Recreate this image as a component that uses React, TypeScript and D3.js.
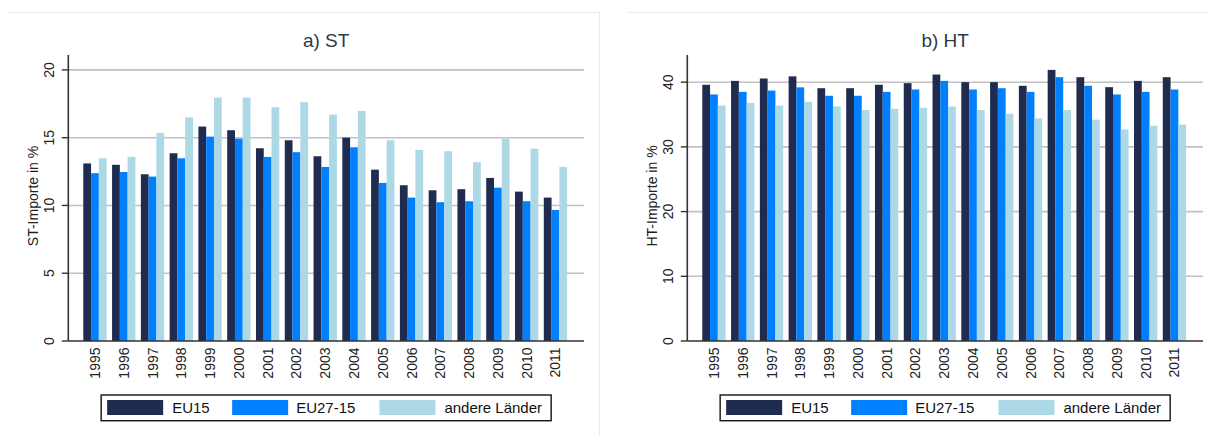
import React from 'react';
import * as d3 from 'd3';

const years = ['1995','1996','1997','1998','1999','2000','2001','2002','2003','2004','2005','2006','2007','2008','2009','2010','2011'];
const seriesNames = ['EU15', 'EU27-15', 'andere Länder'];
const seriesColors = ['#1f2b4f', '#0080ff', '#add8e6'];

const stEU15 = [13.1, 13.0, 12.3, 13.85, 15.82, 15.55, 14.22, 14.81, 13.63, 15.0, 12.64, 11.49, 11.12, 11.2, 12.03, 11.02, 10.58];
const stEU2715 = [12.38, 12.47, 12.13, 13.48, 15.08, 14.93, 13.58, 13.93, 12.84, 14.29, 11.66, 10.58, 10.24, 10.31, 11.31, 10.31, 9.67];
const stAndere = [13.48, 13.58, 15.35, 16.5, 17.96, 17.96, 17.25, 17.62, 16.7, 16.97, 14.81, 14.1, 14.0, 13.19, 14.91, 14.19, 12.84];

const htEU15 = [39.6, 40.2, 40.57, 40.9, 39.07, 39.07, 39.6, 39.85, 41.18, 40.0, 40.0, 39.44, 41.9, 40.77, 39.23, 40.2, 40.77];
const htEU2715 = [38.1, 38.5, 38.7, 39.2, 37.9, 37.9, 38.5, 38.87, 40.2, 38.87, 39.07, 38.5, 40.77, 39.44, 38.1, 38.5, 38.87];
const htAndere = [36.4, 36.8, 36.4, 36.97, 36.25, 35.7, 35.9, 36.04, 36.25, 35.68, 35.12, 34.4, 35.68, 34.2, 32.7, 33.27, 33.43];

const stTicks = [0, 5, 10, 15, 20];
const htTicks = [0, 10, 20, 30, 40];

const FONT = '"Liberation Sans", Arial, sans-serif';

type PanelProps = {
  axisX: number;
  title: string;
  yLabel: string;
  yMax: number;
  ticks: number[];
  values: number[][];
};

function Panel({ axisX, title, yLabel, yMax, ticks, values }: PanelProps) {
  const yTop = 55;
  const yBottom = 341;
  const plotW = 515.7;
  const xEnd = axisX + plotW;
  const y = d3.scaleLinear().domain([0, yMax]).range([yBottom, yTop]);
  const x = d3.scaleBand<string>().domain(years).range([axisX, axisX + 513.8]).paddingInner(0.19).paddingOuter(0.521);
  const inner = d3.scaleBand<string>().domain(seriesNames).range([0, x.bandwidth()]);
  const cx = axisX + plotW / 2;
  const legendW = 450;
  const lx = cx - legendW / 2;
  const legendItems = [
    { sw: 6, tx: 71 },
    { sw: 131, tx: 195 },
    { sw: 278.3, tx: 343.3 },
  ];
  return (
    <g>
      <text x={cx} y={46.5} textAnchor="middle" fontSize={19} fill="#2e3a4c" fontFamily={FONT}>{title}</text>
      {ticks.map((t) => (
        <g key={t}>
          {t > 0 && <line x1={axisX} x2={xEnd} y1={y(t)} y2={y(t)} stroke="#c2c2c2" strokeWidth={1.6} />}
          <line x1={axisX - 6.5} x2={axisX} y1={y(t)} y2={y(t)} stroke="#333" strokeWidth={1.4} />
          <text transform={`translate(${axisX - 19},${y(t)}) rotate(-90)`} textAnchor="middle" dy="0.35em" fontSize={14} fill="#222" fontFamily={FONT}>{t}</text>
        </g>
      ))}
      {years.map((yr, i) => (
        <g key={yr}>
          {seriesNames.map((s, j) => {
            const v = values[j][i];
            return (
              <rect key={s} x={(x(yr) as number) + (inner(s) as number)} y={y(v)} width={inner.bandwidth()} height={yBottom - y(v)} fill={seriesColors[j]} />
            );
          })}
          <text transform={`translate(${(x(yr) as number) + x.bandwidth() / 2},${347.5}) rotate(-90)`} textAnchor="end" dy="0.36em" fontSize={14} fill="#222" fontFamily={FONT}>{yr}</text>
        </g>
      ))}
      <line x1={axisX} x2={axisX} y1={yTop} y2={yBottom} stroke="#333" strokeWidth={1.6} />
      <line x1={axisX} x2={xEnd} y1={yBottom} y2={yBottom} stroke="#333" strokeWidth={1.6} />
      <text transform={`translate(${axisX - 35},${196}) rotate(-90)`} textAnchor="middle" dy="0.35em" fontSize={14} fill="#222" fontFamily={FONT}>{yLabel}</text>
      <rect x={lx} y={395} width={legendW} height={25.7} fill="#fff" stroke="#111" strokeWidth={1.4} />
      {seriesNames.map((s, j) => (
        <g key={s}>
          <rect x={lx + legendItems[j].sw} y={400} width={56} height={15} fill={seriesColors[j]} />
          <text x={lx + legendItems[j].tx} y={413.3} fontSize={15} fill="#111" fontFamily={FONT}>{s}</text>
        </g>
      ))}
    </g>
  );
}

export default function App() {
  return (
    <svg width={1208} height={435} style={{ position: 'absolute', left: 0, top: 0, background: '#fff' }}>
      <rect x={0} y={0} width={1208} height={435} fill="#fff" />
      <line x1={8} x2={599} y1={12.5} y2={12.5} stroke="#e4ecee" strokeWidth={1} />
      <line x1={599.5} x2={599.5} y1={12} y2={435} stroke="#e4ecee" strokeWidth={1} />
      <line x1={628} x2={1208} y1={12.5} y2={12.5} stroke="#e4ecee" strokeWidth={1} />
      <Panel axisX={68.3} title="a) ST" yLabel="ST-Importe in %" yMax={21.1} ticks={stTicks} values={[stEU15, stEU2715, stAndere]} />
      <Panel axisX={687.3} title="b) HT" yLabel="HT-Importe in %" yMax={44.2} ticks={htTicks} values={[htEU15, htEU2715, htAndere]} />
    </svg>
  );
}
